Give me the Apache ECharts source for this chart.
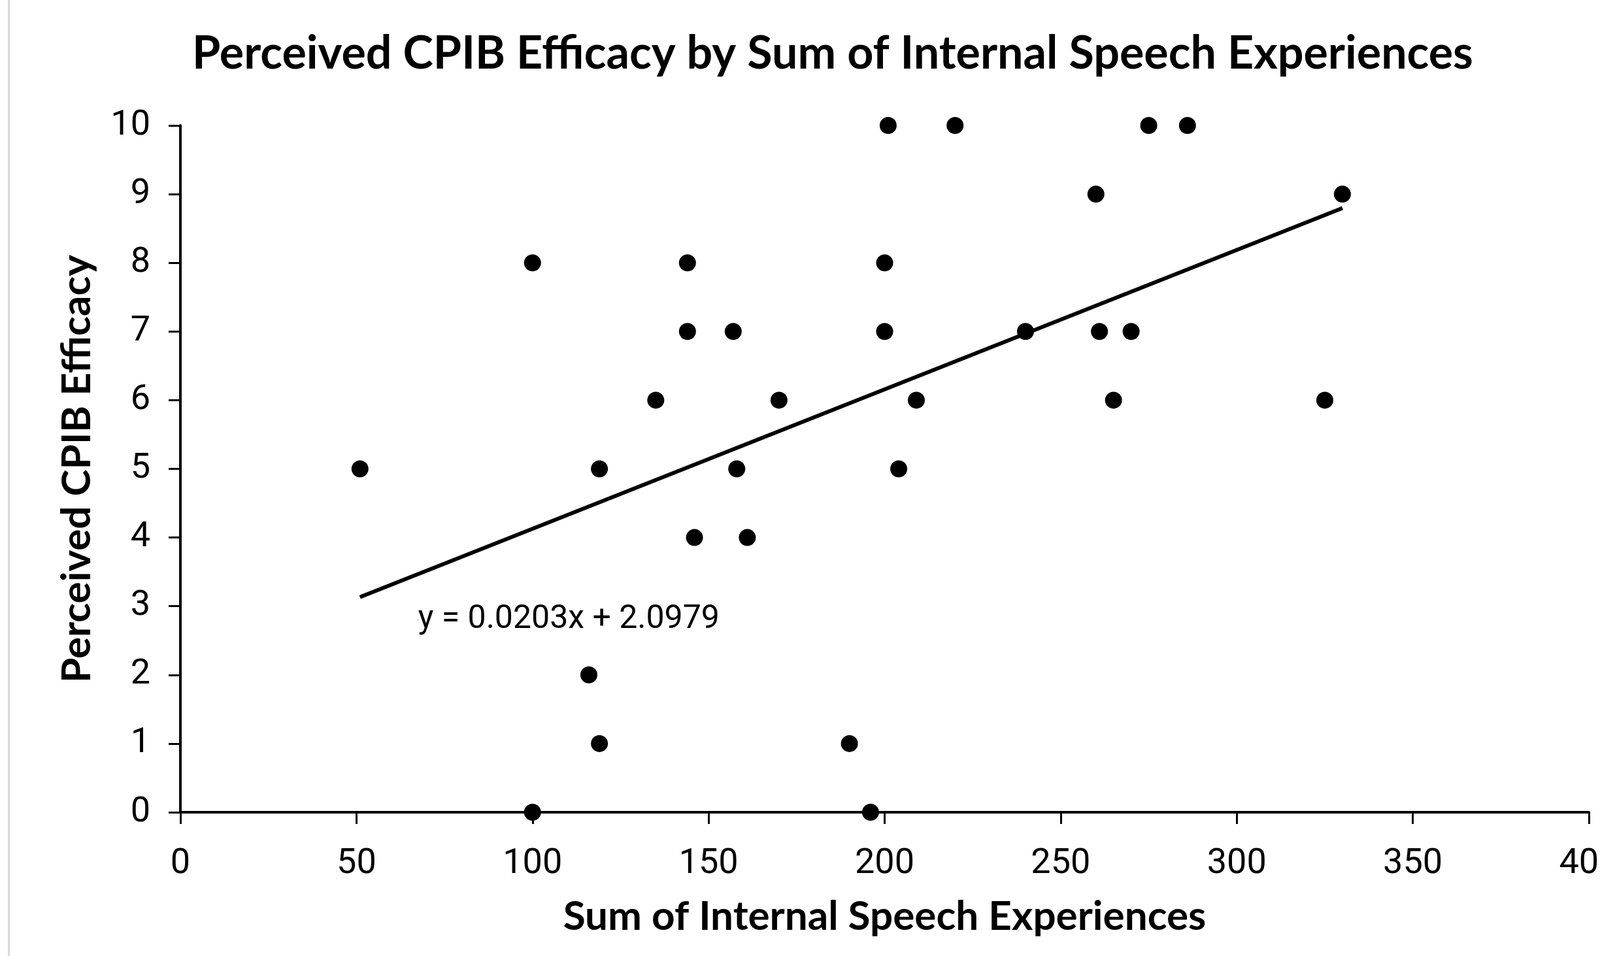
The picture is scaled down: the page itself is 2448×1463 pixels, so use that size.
<!DOCTYPE html>
<html>
<head>
<meta charset="utf-8">
<title>Perceived CPIB Efficacy</title>
<script src="https://cdn.jsdelivr.net/npm/echarts@6/dist/echarts.min.js"></script>
<style>
  html, body { margin: 0; padding: 0; background: #fff; }
  #main { width: 2448px; height: 1463px; }
</style>
</head>
<body>
<div id="main"></div>
<script>
// sum of internal speech experiences (x) and perceived CPIB efficacy (y)
var sumScores = [51, 100, 100, 116, 119, 119, 135, 144, 144, 146, 157, 158, 161, 170, 190, 196,
  200, 200, 201, 204, 209, 220, 240, 260, 261, 265, 270, 275, 286, 325, 330];
var efficacy = [5, 8, 0, 2, 5, 1, 6, 8, 7, 4, 7, 5, 4, 6, 1, 0,
  8, 7, 10, 5, 6, 10, 7, 9, 7, 6, 7, 10, 10, 6, 9];

// linear trendline shown on the chart
var slope = 0.0203;
var intercept = 2.0979;
var equationText = 'y = 0.0203x + 2.0979';
var equationAt = [67.5, 2.79];

var xTicks = [0, 400, 50];
var yTicks = [0, 10, 1];

var points = sumScores.map(function (x, i) { return [x, efficacy[i]]; });
var xMin = Math.min.apply(null, sumScores);
var xMax = Math.max.apply(null, sumScores);
var trend = [[xMin, slope * xMin + intercept], [xMax, slope * xMax + intercept]];

var boldFont = "Lato, 'DejaVu Sans Condensed', sans-serif";
var textFont = "Roboto, 'Noto Sans', sans-serif";

var chart = echarts.init(document.getElementById('main'));
chart.setOption({
  animation: false,
  backgroundColor: '#fff',
  title: {
    text: 'Perceived CPIB Efficacy by Sum of Internal Speech Experiences',
    left: 1269,
    textAlign: 'center',
    top: 42,
    textStyle: { fontFamily: boldFont, fontWeight: 'bold', fontSize: 70, color: '#000' }
  },
  graphic: [{
    type: 'rect',
    shape: { x: 12, y: 0, width: 3, height: 1463 },
    style: { fill: '#d9d9d9' },
    silent: true
  }],
  grid: { left: 276, right: 17, top: 192, bottom: 220, outerBoundsMode: 'none' },
  xAxis: {
    type: 'value',
    min: xTicks[0], max: xTicks[1], interval: xTicks[2],
    name: 'Sum of Internal Speech Experiences',
    nameLocation: 'middle',
    nameGap: 129,
    nameMoveOverlap: false,
    nameTextStyle: { fontFamily: boldFont, fontWeight: 'bold', fontSize: 62, color: '#000' },
    axisLine: { show: true, onZero: false, lineStyle: { color: '#000', width: 4 } },
    axisTick: { show: true, inside: false, length: 18, lineStyle: { color: '#000', width: 3 } },
    axisLabel: { margin: 52, fontFamily: textFont, fontSize: 54, color: '#000', showMaxLabel: true },
    splitLine: { show: false }
  },
  yAxis: {
    type: 'value',
    min: yTicks[0], max: yTicks[1], interval: yTicks[2],
    name: 'Perceived CPIB Efficacy',
    nameLocation: 'middle',
    nameGap: 127,
    nameMoveOverlap: false,
    nameTextStyle: { fontFamily: boldFont, fontWeight: 'bold', fontSize: 62, color: '#000' },
    axisLine: { show: true, lineStyle: { color: '#000', width: 4 } },
    axisTick: { show: true, inside: false, length: 18, lineStyle: { color: '#000', width: 3 } },
    axisLabel: { margin: 46, fontFamily: textFont, fontSize: 54, color: '#000' },
    splitLine: { show: false }
  },
  series: [
    {
      type: 'line',
      data: trend,
      symbol: 'none',
      lineStyle: { color: '#000', width: 6 },
      z: 2,
      markPoint: {
        symbolSize: 0,
        data: [{ coord: equationAt }],
        label: {
          show: true,
          position: 'inside',
          align: 'left',
          formatter: equationText,
          fontFamily: textFont,
          fontSize: 50,
          color: '#000'
        }
      }
    },
    {
      type: 'scatter',
      data: points,
      symbol: 'circle',
      symbolSize: 26,
      itemStyle: { color: '#000', opacity: 1 },
      z: 3
    }
  ]
});
</script>
</body>
</html>
